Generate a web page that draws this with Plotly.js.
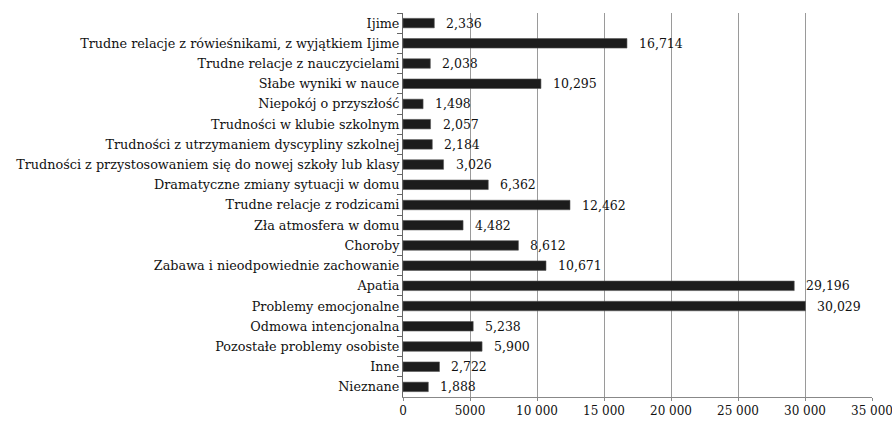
<!DOCTYPE html>
<html>
<head>
<meta charset="utf-8">
<script src="https://cdn.plot.ly/plotly-3.0.1.min.js"></script>
<style>html,body{margin:0;padding:0;background:#fff;}#chart{width:892px;height:421px;}</style>
</head>
<body>
<div id="chart"></div>
<script>
const categories = [
  "Ijime",
  "Trudne relacje z rówieśnikami, z wyjątkiem Ijime",
  "Trudne relacje z nauczycielami",
  "Słabe wyniki w nauce",
  "Niepokój o przyszłość",
  "Trudności w klubie szkolnym",
  "Trudności z utrzymaniem dyscypliny szkolnej",
  "Trudności z przystosowaniem się do nowej szkoły lub klasy",
  "Dramatyczne zmiany sytuacji w domu",
  "Trudne relacje z rodzicami",
  "Zła atmosfera w domu",
  "Choroby",
  "Zabawa i nieodpowiednie zachowanie",
  "Apatia",
  "Problemy emocjonalne",
  "Odmowa intencjonalna",
  "Pozostałe problemy osobiste",
  "Inne",
  "Nieznane"
];
const values = [2336, 16714, 2038, 10295, 1498, 2057, 2184, 3026, 6362, 12462, 4482, 8612, 10671, 29196, 30029, 5238, 5900, 2722, 1888];
const valueLabels = ["2,336","16,714","2,038","10,295","1,498","2,057","2,184","3,026","6,362","12,462","4,482","8,612","10,671","29,196","30,029","5,238","5,900","2,722","1,888"];
const tickVals = [0, 5000, 10000, 15000, 20000, 25000, 30000, 35000];
const tickText = ["0", "5000", "10 000", "15 000", "20 000", "25 000", "30 000", "35 000"];

const font = "DejaVu Serif";

const trace = {
  type: "bar",
  orientation: "h",
  x: values,
  y: categories,
  marker: {color: "#1c1c1c", line: {color: "#555", width: 0.6}},
  hoverinfo: "none"
};

const annotations = values.map((v, i) => ({
  x: v, y: categories[i], xref: "x", yref: "y",
  text: valueLabels[i], showarrow: false, xanchor: "left", xshift: 10,
  font: {family: font, size: 12.5, color: "#111"}
}));

const layout = {
  width: 892, height: 421,
  margin: {l: 403, r: 20, t: 13, b: 24},
  paper_bgcolor: "#fff", plot_bgcolor: "#fff",
  showlegend: false,
  bargap: 0.53,
  font: {family: font, color: "#111"},
  xaxis: {
    range: [0, 35000], tickvals: tickVals, ticktext: tickText,
    showgrid: true, gridcolor: "#9a9a9a", gridwidth: 1,
    zeroline: false, showline: true, linecolor: "#888", linewidth: 1,
    ticks: "outside", ticklen: 3, tickcolor: "#888",
    ticklabeloverflow: "allow",
    tickfont: {family: font, size: 12, color: "#111"}, fixedrange: true
  },
  yaxis: {
    type: "category", autorange: "reversed",
    showline: true, linecolor: "#666", linewidth: 1,
    ticks: "outside", tickson: "boundaries", ticklen: 5, tickcolor: "#666",
    showgrid: false, zeroline: false,
    tickfont: {family: font, size: 12.8, color: "#111"}, fixedrange: true
  },
  annotations: annotations
};

Plotly.newPlot("chart", [trace], layout, {displayModeBar: false, staticPlot: true});
</script>
</body>
</html>
